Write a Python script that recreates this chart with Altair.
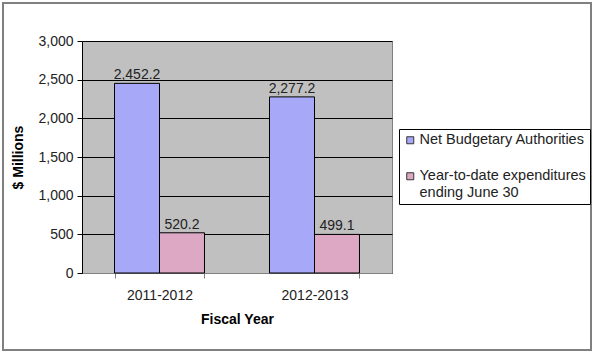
import altair as alt
import pandas as pd

years = ["2011-2012", "2012-2013"]
series = ["Net Budgetary Authorities", "Year-to-date expenditures ending June 30"]
authorities = [2452.2, 2277.2]
expenditures = [520.2, 499.1]
y_ticks = [0, 500, 1000, 1500, 2000, 2500, 3000]

rows = []
for i, y in enumerate(years):
    rows.append({"year": y, "series": series[0], "value": authorities[i]})
    rows.append({"year": y, "series": series[1], "value": expenditures[i]})
df = pd.DataFrame(rows)

FONT = "Liberation Sans"

x_enc = alt.X("year:N", sort=years,
              scale=alt.Scale(paddingInner=0.4194, paddingOuter=0.2097),
              axis=alt.Axis(title="Fiscal Year", labelAngle=0, tickBand="extent",
                            domainColor="#808080", tickColor="#808080", tickSize=5,
                            labelFontSize=14, labelFont=FONT, labelColor="#222",
                            labelPadding=10, titleFont=FONT, titleFontSize=14,
                            titleFontWeight="bold", titlePadding=10, titleColor="#000"))
xo = alt.XOffset("series:N", sort=series, scale=alt.Scale(paddingInner=0, paddingOuter=0))
y_enc = alt.Y("value:Q", scale=alt.Scale(domain=[0, 3000], nice=False),
              axis=alt.Axis(title="$ Millions", values=y_ticks, format=",.0f",
                            tickCount=7, labelOverlap=False,
                            grid=True, gridColor="#000", gridWidth=1,
                            domainColor="#000", tickColor="#000", tickSize=5,
                            labelFontSize=14, labelFont=FONT, labelColor="#222",
                            labelPadding=4, titleFont=FONT, titleFontSize=14,
                            titleFontWeight="bold", titlePadding=12, titleColor="#000"))

color = alt.Color("series:N", sort=series,
                  scale=alt.Scale(domain=series, range=["#A8A8F8", "#DCA8C4"]),
                  legend=alt.Legend(title=None, orient="none", legendX=317, legendY=88,
                                    symbolType="square", symbolSize=49,
                                    symbolStrokeColor="#333", symbolStrokeWidth=1,
                                    symbolOffset=0, labelOffset=2,
                                    labelFont=FONT, labelFontSize=14.5, labelColor="#222",
                                    labelLimit=300, rowPadding=21, padding=4,
                                    strokeColor="#000", fillColor="#fff",
                                    labelExpr="datum.label == 'Net Budgetary Authorities' ? datum.label : ['Year-to-date expenditures', 'ending June 30']"))

bars = alt.Chart(df).mark_bar(stroke="#000", strokeWidth=1).encode(
    x=x_enc, xOffset=xo, y=y_enc, color=color)

labels = alt.Chart(df).mark_text(dy=-8, fontSize=14, font=FONT, color="#222").encode(
    x=alt.X("year:N", sort=years), xOffset=xo, y="value:Q",
    text=alt.Text("value:Q", format=",.1f"))

border = alt.Chart(pd.DataFrame({"a": [0]})).mark_rect(
    fill=None, stroke="#808080", strokeWidth=2).encode(
    x=alt.value(-79), x2=alt.value(509), y=alt.value(-38), y2=alt.value(309))

chart = alt.layer(bars, labels, border).properties(
    width=310, height=232, autosize="none",
    padding={"left": 82, "top": 41, "right": 203, "bottom": 82},
    background="#fff"
).configure_view(fill="#C0C0C0", stroke="#808080", strokeWidth=1)

chart.save("out.html", embed_options={"renderer": "svg", "actions": False})
